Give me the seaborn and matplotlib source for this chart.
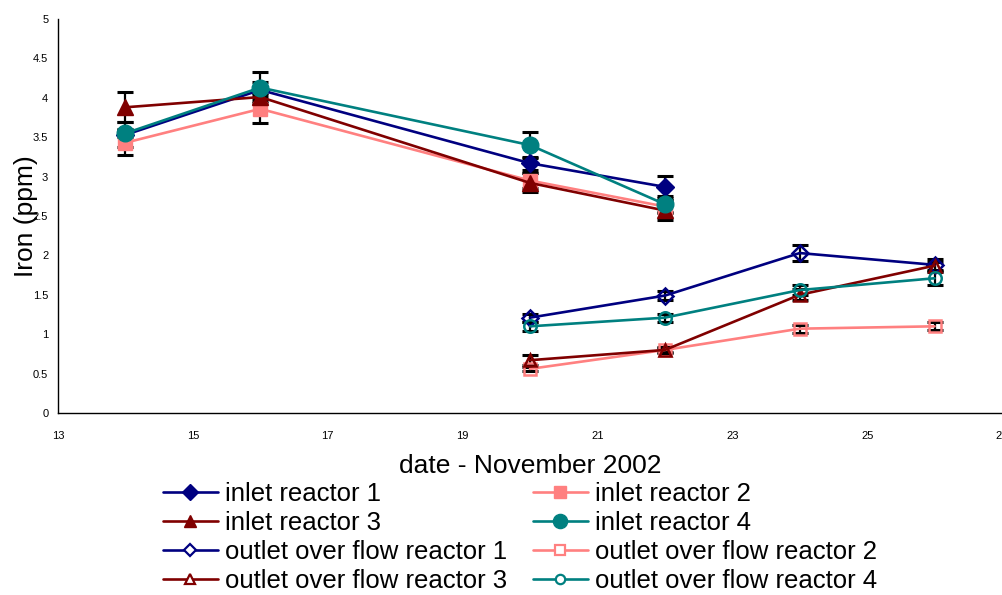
import matplotlib
matplotlib.use("Agg")
import matplotlib.pyplot as plt
from matplotlib.lines import Line2D
import seaborn as sns
import pandas as pd

sns.set_style("white")
plt.rcParams['font.family'] = ['Liberation Sans', 'DejaVu Sans']
plt.rcParams.update({"text.color": "black", "axes.labelcolor": "black",
                     "xtick.color": "black", "ytick.color": "black"})

# ---- data ----
inlet_days = [14, 16, 20, 22]
outlet_days = [20, 22, 24, 26]

inlet_r1 = [3.53, 4.10, 3.17, 2.87]
inlet_r2 = [3.43, 3.86, 2.95, 2.62]
inlet_r3 = [3.88, 4.01, 2.92, 2.57]
inlet_r4 = [3.55, 4.13, 3.40, 2.65]
inlet_r1_err = [0.16, 0.10, 0.08, 0.14]
inlet_r2_err = [0.16, 0.18, 0.10, 0.08]
inlet_r3_err = [0.19, 0.05, 0.12, 0.12]
inlet_r4_err = [0.05, 0.20, 0.17, 0.10]

outlet_r1 = [1.21, 1.49, 2.03, 1.88]
outlet_r2 = [0.56, 0.80, 1.07, 1.10]
outlet_r3 = [0.67, 0.80, 1.50, 1.87]
outlet_r4 = [1.10, 1.21, 1.56, 1.71]
outlet_r1_err = [0.05, 0.06, 0.10, 0.08]
outlet_r2_err = [0.03, 0.03, 0.05, 0.05]
outlet_r3_err = [0.06, 0.04, 0.07, 0.05]
outlet_r4_err = [0.06, 0.05, 0.06, 0.08]

labels = ["inlet reactor 1", "inlet reactor 2", "inlet reactor 3", "inlet reactor 4",
          "outlet over flow reactor 1", "outlet over flow reactor 2",
          "outlet over flow reactor 3", "outlet over flow reactor 4"]

navy, pink, dred, teal = "#000080", "#FF8080", "#800000", "#008080"

series = [
    (labels[0], inlet_days, inlet_r1, inlet_r1_err, navy, "D", True, 9),
    (labels[1], inlet_days, inlet_r2, inlet_r2_err, pink, "s", True, 10),
    (labels[2], inlet_days, inlet_r3, inlet_r3_err, dred, "^", True, 11),
    (labels[3], inlet_days, inlet_r4, inlet_r4_err, teal, "o", True, 12),
    (labels[4], outlet_days, outlet_r1, outlet_r1_err, navy, "D", False, 8),
    (labels[5], outlet_days, outlet_r2, outlet_r2_err, pink, "s", False, 9),
    (labels[6], outlet_days, outlet_r3, outlet_r3_err, dred, "^", False, 9),
    (labels[7], outlet_days, outlet_r4, outlet_r4_err, teal, "o", False, 9),
]

fig = plt.figure(figsize=(10.03, 5.95), dpi=100)
ax = fig.add_axes([0.0578, 0.3059, 0.9412, 0.6621])

handles = []
for lab, xs, ys, es, col, mk, filled, ms in series:
    df = pd.DataFrame({"x": xs, "y": ys})
    ax.errorbar(xs, ys, yerr=es, fmt="none", ecolor="black", elinewidth=1.6,
                capsize=6, capthick=2.2, zorder=2)
    sns.lineplot(data=df, x="x", y="y", ax=ax, color=col, linewidth=1.9,
                 marker=mk, markersize=ms,
                 markerfacecolor=col if filled else "none",
                 markeredgecolor=col, markeredgewidth=1.0 if filled else 1.8,
                 zorder=3, legend=False)
    handles.append(Line2D([], [], color=col, linewidth=1.9, marker=mk,
                          markersize=ms * 0.85 if filled else ms * 0.75,
                          markerfacecolor=col if filled else "white",
                          markeredgecolor=col, markeredgewidth=1.0 if filled else 1.6))

ax.set_xlim(13, 27)
ax.set_ylim(0, 5)
ax.set_xticks(range(13, 28, 2))
ax.set_yticks([0, 0.5, 1, 1.5, 2, 2.5, 3, 3.5, 4, 4.5, 5])
ax.set_yticklabels(["0", "0.5", "1", "1.5", "2", "2.5", "3", "3.5", "4", "4.5", "5"])
for s in ["top", "right"]:
    ax.spines[s].set_visible(False)
for s in ["left", "bottom"]:
    ax.spines[s].set_color("black")
    ax.spines[s].set_linewidth(1.0)
ax.tick_params(axis="both", which="major", direction="out", length=4, width=1,
               color="black", labelcolor="black", labelsize=8, pad=3)
ax.tick_params(axis="x", pad=9)
ax.set_xlabel("date - November 2002", fontsize=19, color="black")
ax.xaxis.set_label_coords(0.5, -0.105)
ax.set_ylabel("Iron (ppm)", fontsize=19, color="black")
ax.yaxis.set_label_coords(-0.021, 0.5)

order = [0, 2, 4, 6, 1, 3, 5, 7]
leg = fig.legend(handles=[handles[i] for i in order], labels=[labels[i] for i in order],
                 ncol=2, loc="upper left",
                 bbox_to_anchor=(0.1625, 0.19), frameon=False, fontsize=18.5,
                 handlelength=2.14, handletextpad=0.27, columnspacing=1.0,
                 labelspacing=0.2, borderaxespad=0, borderpad=0)
for t in leg.get_texts():
    t.set_color("black")

fig.savefig("out.png", dpi=100)
